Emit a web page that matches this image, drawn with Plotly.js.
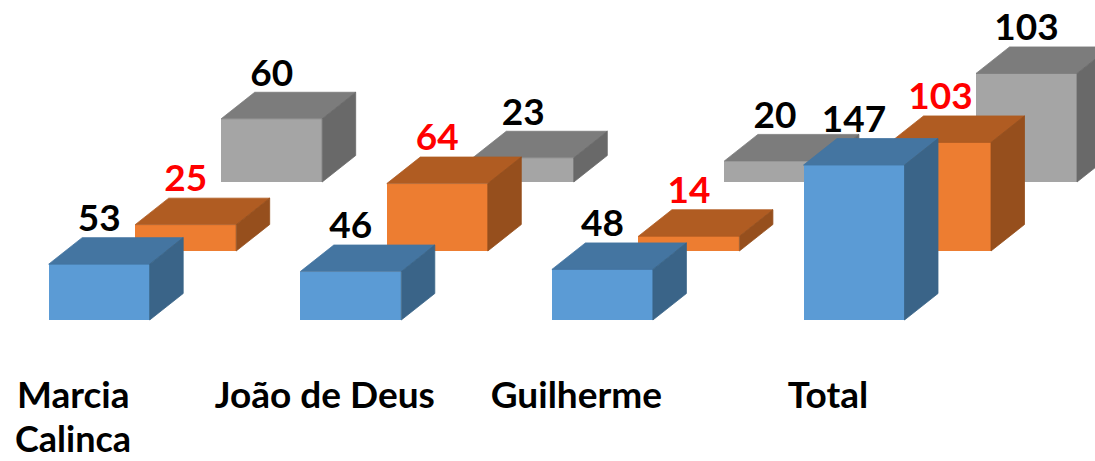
<!DOCTYPE html>
<html>
<head>
<meta charset="utf-8">
<script src="https://cdn.plot.ly/plotly-3.0.1.min.js"></script>
<style>html,body{margin:0;padding:0;background:#fff;overflow:hidden}#chart{width:1095px;height:461px}</style>
</head>
<body>
<div id="chart"></div>
<script>
var categories = ['Marcia', 'João de Deus', 'Guilherme', 'Total'];
var categorySecondLine = ['Calinca', '', '', ''];
var seriesBlue = [53, 46, 48, 147];
var seriesOrange = [25, 64, 14, 103];
var seriesGray = [60, 23, 20, 103];

var PX_X = 251.6, PX_Y = 1.054;
var W = 1095, H = 461, MB = 91, BASE_PX = 320, FIRST_CENTER_PX = 99.2;
var barW = 101 / PX_X, depthX = 33.5 / PX_X, depthY = 26.5 / PX_Y;
var xRange = [-FIRST_CENTER_PX / PX_X, (W - FIRST_CENTER_PX) / PX_X];
var yRange = [-(H - MB - BASE_PX) / PX_Y, BASE_PX / PX_Y];
var FONT = 'Lato, sans-serif';
var LABEL_SIZE = 37, CAT_SIZE = 37, CAT2_SIZE = 36;
var LABEL_GAP = -2.5 / PX_Y;

var series = [
  {values: seriesGray,   off: 172.5/PX_X, lift: 138/PX_Y, front: '#A5A5A5', top: '#7C7C7C', side: '#696969', text: '#000000', ax: ['x','y']},
  {values: seriesOrange, off: 86.5/PX_X,  lift: 69/PX_Y,  front: '#ED7D31', top: '#B05C22', side: '#964F1D', text: '#FF0000', ax: ['x2','y2']},
  {values: seriesBlue,   off: 0,          lift: 0,        front: '#5B9BD5', top: '#4475A1', side: '#3A6488', text: '#000000', ax: ['x3','y3']}
];

function poly(color, xs, ys, ax) {
  return {type:'scatter', mode:'lines', x:xs, y:ys, fill:'toself', fillcolor:color,
          line:{width:0.8, color:color}, hoverinfo:'skip', showlegend:false, xaxis:ax[0], yaxis:ax[1]};
}

var traces = [];
series.forEach(function(s){
  var cx = categories.map(function(_, i){ return i + s.off; });
  traces.push({type:'bar', x:cx, y:s.values, base:cx.map(function(){return s.lift;}), width:barW,
    marker:{color:s.front, line:{width:0}}, hoverinfo:'skip', showlegend:false, xaxis:s.ax[0], yaxis:s.ax[1]});
  var tx=[], ty=[], sx=[], sy=[];
  s.values.forEach(function(v, i){
    var l = cx[i]-barW/2, r = cx[i]+barW/2, b = s.lift, t = s.lift+v;
    tx.push(l, r, r+depthX, l+depthX, l, null);
    ty.push(t, t, t+depthY, t+depthY, t, null);
    sx.push(r, r+depthX, r+depthX, r, r, null);
    sy.push(t, t+depthY, b+depthY, b, t, null);
  });
  traces.push(poly(s.top, tx, ty, s.ax));
  traces.push(poly(s.side, sx, sy, s.ax));
});
// data labels, on top of everything
series.forEach(function(s){
  traces.push({type:'scatter', mode:'text', x:categories.map(function(_, i){ return i + s.off; }),
    y:s.values.map(function(v){ return v + s.lift + depthY + LABEL_GAP; }),
    text:s.values.map(String), textposition:'top center', cliponaxis:false,
    textfont:{family:FONT, size:LABEL_SIZE, color:s.text, weight:700},
    hoverinfo:'skip', showlegend:false, xaxis:'x3', yaxis:'y3'});
});

var catOffset = -26/PX_X;
var tickX = categories.map(function(_, i){ return i + catOffset; });
function ax(extra){
  var a = {range:xRange, showgrid:false, zeroline:false, showline:false, ticks:'', showticklabels:false, fixedrange:true};
  for (var k in extra) a[k]=extra[k];
  return a;
}
function ay(extra){
  var a = {range:yRange, showgrid:false, zeroline:false, showline:false, ticks:'', showticklabels:false, fixedrange:true};
  for (var k in extra) a[k]=extra[k];
  return a;
}
var annotations = [];
categorySecondLine.forEach(function(t, i){
  if (t) annotations.push({text:t, xref:'x', yref:'paper', x:tickX[i], y:-67.5/(H-MB), yanchor:'middle', xanchor:'center',
    showarrow:false, font:{family:FONT, size:CAT2_SIZE, color:'#000', weight:700}});
});

var layout = {
  width:W, height:H, margin:{l:0,r:0,t:0,b:MB,pad:0}, showlegend:false,
  paper_bgcolor:'#fff', plot_bgcolor:'#fff', bargap:0,
  xaxis: ax({tickmode:'array', tickvals:tickX, ticktext:categories, showticklabels:true,
             tickfont:{family:FONT, size:CAT_SIZE, color:'#000', weight:700}}),
  yaxis: ay({}),
  xaxis2: ax({overlaying:'x', anchor:'y2'}), yaxis2: ay({overlaying:'y', anchor:'x2'}),
  xaxis3: ax({overlaying:'x', anchor:'y3'}), yaxis3: ay({overlaying:'y', anchor:'x3'}),
  annotations: annotations
};
Plotly.newPlot('chart', traces, layout, {displayModeBar:false, staticPlot:true});
</script>
</body>
</html>
